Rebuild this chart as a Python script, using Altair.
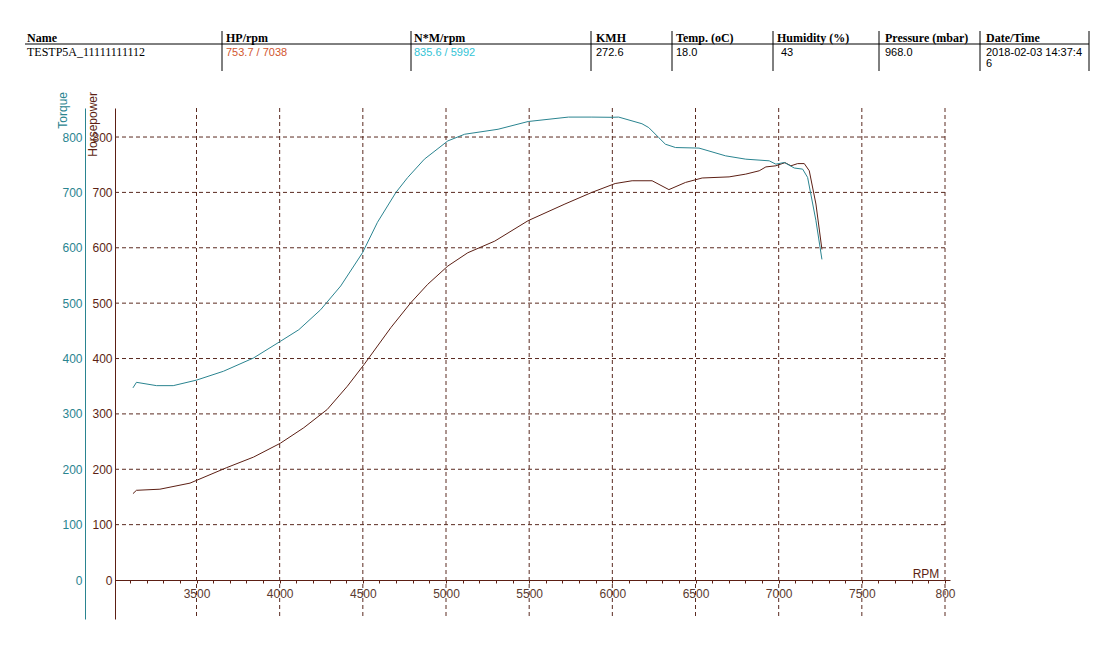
import altair as alt
import pandas as pd

# ---------------- data ----------------
hp_rpm = [3118, 3139, 3280, 3461, 3682, 3843, 4004, 4145, 4286, 4407, 4507, 4669,
          4789, 4890, 5011, 5131, 5293, 5494, 5715, 5877, 6017, 6119, 6239, 6340,
          6440, 6540, 6702, 6802, 6883, 6923, 6983, 7038, 7074, 7114, 7154, 7184,
          7224, 7260]
hp_val = [156, 162, 164, 175, 203, 222, 247, 275, 308, 350, 389, 456,
          501, 534, 567, 591, 612, 649, 679, 700, 716, 721, 721, 705,
          718, 726, 728, 733, 739, 746, 748, 753.7, 748, 752, 752, 739,
          679, 597]

tq_rpm = [3118, 3139, 3260, 3360, 3500, 3662, 3843, 4004, 4115, 4246, 4367, 4498,
          4588, 4699, 4770, 4870, 5011, 5112, 5313, 5494, 5736, 5877, 5992, 6038,
          6178, 6219, 6279, 6319, 6380, 6521, 6681, 6802, 6943, 6983, 7034, 7094,
          7144, 7174, 7224, 7260]
tq_val = [347, 357, 351, 351, 361, 377, 401, 431, 452, 488, 531, 591,
          646, 700, 727, 760, 793, 805, 814, 828, 836, 836, 835.6, 836,
          824, 817, 799, 787, 781, 780, 766, 760, 757, 751, 754, 744,
          742, 727, 649, 579]

x_major = [3500, 4000, 4500, 5000, 5500, 6000, 6500, 7000, 7500, 8000]
x_minor = list(range(3100, 8001, 100))
y_ticks = [0, 100, 200, 300, 400, 500, 600, 700, 800]
y_grid = [100, 200, 300, 400, 500, 600, 700, 800]

header_titles = ["Name", "HP/rpm", "N*M/rpm", "KMH", "Temp. (oC)",
                 "Humidity (%)", "Pressure (mbar)", "Date/Time"]
header_values = ["TESTP5A_11111111112", "753.7 / 7038", "835.6 / 5992", "272.6",
                 "18.0", "43", "968.0", "2018-02-03 14:37:4"]
date_wrap = "6"

# ---------------- layout / style ----------------
W, H = 835, 511
OX, OY = 115, 108  # plot origin on page
col_x = [27, 226, 414, 596, 676, 777, 885, 986]
val_x = [27, 226, 414, 596, 676, 781, 885, 986]
sep_x = [222, 411, 591, 672, 773, 879, 980, 1089]

BROWN = "#5c1f14"
GRID = "#5a2a20"
TEAL = "#2a8490"
LABEL = "#5a3a30"
HPVAL = "#d2572f"
TQVAL = "#33c4d6"

xs = alt.Scale(domain=[3010, 8030], nice=False, zero=False)
ys = alt.Scale(domain=[-70.4, 852.4], nice=False, zero=False)

hp_df = pd.DataFrame({"rpm": hp_rpm, "hp": hp_val})
tq_df = pd.DataFrame({"rpm": tq_rpm, "tq": tq_val})
gx_df = pd.DataFrame({"rpm": x_major})
gy_df = pd.DataFrame({"g": y_grid})
one = pd.DataFrame({"k": [0]})

xaxis = alt.Axis(
    orient="bottom", offset=-39, values=x_minor, title=None, grid=False,
    labelExpr="datum.value % 500 == 0 ? (datum.value == 8000 ? '800' : datum.label) : ''",
    format="d", tickSize=3, tickColor=BROWN, domainColor=BROWN, domainWidth=1,
    labelColor=LABEL, labelFont="Liberation Sans", labelFontSize=12,
    labelPadding=5, labelOverlap=False, labelFlush=False, labelBound=False,
)

hp_axis = alt.Axis(
    orient="left", offset=0, values=y_ticks, title=None, grid=False, ticks=False,
    domainColor=BROWN, labelColor=BROWN, labelFont="Liberation Sans",
    labelFontSize=12, labelPadding=3, format="d", labelOverlap=False,
)
tq_axis = alt.Axis(
    orient="left", offset=30, values=y_ticks, title=None, grid=False, ticks=False,
    domainColor=TEAL, labelColor=TEAL, labelFont="Liberation Sans",
    labelFontSize=12, labelPadding=3, format="d", labelOverlap=False,
)

grid_v = alt.Chart(gx_df).mark_rule(color=GRID, strokeDash=[4, 3], strokeWidth=1).encode(
    x=alt.X("rpm:Q", scale=xs, axis=xaxis)
)
grid_h = alt.Chart(gy_df).mark_rule(color=GRID, strokeDash=[4, 3], strokeWidth=1).encode(
    y=alt.Y("g:Q", scale=ys, axis=None),
    x=alt.value(0), x2=alt.value(830),
)

hp_line = alt.Chart(hp_df).mark_line(color=BROWN, strokeWidth=1).encode(
    x=alt.X("rpm:Q", scale=xs, axis=xaxis),
    y=alt.Y("hp:Q", scale=ys, axis=hp_axis),
    order="rpm:Q",
)
tq_line = alt.Chart(tq_df).mark_line(color=TEAL, strokeWidth=1).encode(
    x=alt.X("rpm:Q", scale=xs, axis=xaxis),
    y=alt.Y("tq:Q", scale=ys, axis=tq_axis),
    order="rpm:Q",
)

texts = []


def txt(s, px, py, color="black", font="Liberation Sans", size=11, weight="normal",
        angle=0, align="left", baseline="alphabetic"):
    texts.append(
        alt.Chart(one).mark_text(
            text=s, color=color, font=font, fontSize=size, fontWeight=weight,
            angle=angle, align=align, baseline=baseline,
        ).encode(x=alt.value(px - OX), y=alt.value(py - OY))
    )


# axis titles
txt("Torque", 63, 92, color=TEAL, size=12, angle=270, align="right", baseline="middle")
txt("Horsepower", 93, 92, color=BROWN, size=12, angle=270, align="right", baseline="middle")
txt("RPM", 926, 578, color=BROWN, size=12, align="center")

# header table
val_colors = ["black", HPVAL, TQVAL, "black", "black", "black", "black", "black"]
for i, (t, v) in enumerate(zip(header_titles, header_values)):
    txt(t, col_x[i], 42, font="Liberation Serif", size=12, weight="bold")
    if i == 0:
        txt(v, val_x[i], 56, font="Liberation Serif", size=12)
    else:
        txt(v, val_x[i], 56, color=val_colors[i], size=11)
txt(date_wrap, val_x[-1], 67, size=11)

rules = []
for sx in sep_x:
    rules.append(
        alt.Chart(one).mark_rule(color="black", strokeWidth=1).encode(
            x=alt.value(sx - OX), y=alt.value(31 - OY), y2=alt.value(71 - OY)
        )
    )
rules.append(
    alt.Chart(one).mark_rule(color="black", strokeWidth=1).encode(
        x=alt.value(25 - OX), x2=alt.value(1089 - OX), y=alt.value(44 - OY)
    )
)

chart = alt.layer(grid_v, grid_h, hp_line, tq_line, *rules, *texts).resolve_scale(
    y="independent"
).properties(
    width=W, height=H,
    autosize=alt.AutoSizeParams(type="none"),
    padding={"left": OX - 8, "top": OY - 8, "right": 1102 - (OX - 8) - W, "bottom": 643 - (OY - 8) - H},
    background="white",
).configure_view(stroke=None)

chart.save("out.html", embed_options={"renderer": "svg", "actions": False})
